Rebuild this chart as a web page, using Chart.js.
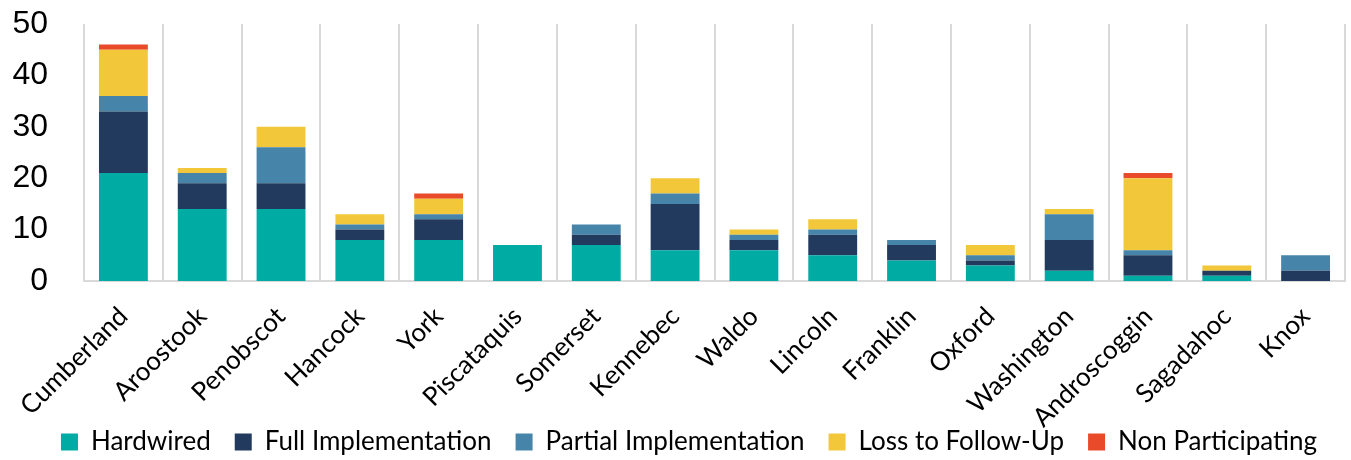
<!DOCTYPE html>
<html lang="en">
<head>
    <meta charset="UTF-8">
    <title>Maine Counties by Implementation Status</title>
    <style>
        body {
            margin: 0;
            background: #ffffff;
        }
        .chart-box {
            width: 1351px;
            height: 460px;
            position: relative;
        }
    </style>
    <script src="https://cdn.jsdelivr.net/npm/chart.js"></script>
</head>
<body>
    <div class="chart-box">
        <canvas id="countyChart"></canvas>
    </div>

    <script>
        // Counties (x axis)
        const counties = ['Cumberland', 'Aroostook', 'Penobscot', 'Hancock', 'York', 'Piscataquis',
            'Somerset', 'Kennebec', 'Waldo', 'Lincoln', 'Franklin', 'Oxford', 'Washington',
            'Androscoggin', 'Sagadahoc', 'Knox'];

        // Stacked series values
        const hardwired     = [21, 14, 14, 8, 8, 7, 7, 6, 6, 5, 4, 3, 2, 1, 1, 0];
        const fullImpl      = [12, 5, 5, 2, 4, 0, 2, 9, 2, 4, 3, 1, 6, 4, 1, 2];
        const partialImpl   = [3, 2, 7, 1, 1, 0, 2, 2, 1, 1, 1, 1, 5, 1, 0, 3];
        const lossFollowUp  = [9, 1, 4, 2, 3, 0, 0, 3, 1, 2, 0, 2, 1, 14, 1, 0];
        const nonParticip   = [1, 0, 0, 0, 1, 0, 0, 0, 0, 0, 0, 0, 0, 1, 0, 0];

        // Y axis
        const yTicks = [0, 10, 20, 30, 40, 50];

        const gridGrey = '#d9d9d9';
        const labelFont = 'Lato, "Open Sans", sans-serif';

        function series(label, data, color) {
            return {
                label: label,
                data: data,
                backgroundColor: color,
                borderWidth: 0,
                categoryPercentage: 1.0,
                barPercentage: 0.62
            };
        }

        // labels may run outside their own axis box (as in the original)
        function noLabelClip(scale) {
            scale._computeLabelArea = function () { return undefined; };
        }

        const ctx = document.getElementById('countyChart').getContext('2d');
        const chart = new Chart(ctx, {
            type: 'bar',
            data: {
                labels: counties,
                datasets: [
                    series('Hardwired', hardwired, '#00aba4'),
                    series('Full Implementation', fullImpl, '#213a5d'),
                    series('Partial Implementation', partialImpl, '#4684a9'),
                    series('Loss to Follow-Up', lossFollowUp, '#f2c83a'),
                    series('Non Participating', nonParticip, '#e94a2a')
                ]
            },
            options: {
                responsive: true,
                maintainAspectRatio: false,
                animation: false,
                layout: {
                    padding: { top: 24, right: 6, bottom: -5, left: 33 }
                },
                plugins: {
                    tooltip: { enabled: false },
                    legend: {
                        position: 'bottom',
                        labels: {
                            boxWidth: 17,
                            boxHeight: 17,
                            padding: 24,
                            color: '#000',
                            font: { family: labelFont, size: 26 }
                        }
                    }
                },
                scales: {
                    x: {
                        stacked: true,
                        grid: {
                            offset: true,
                            color: gridGrey,
                            lineWidth: 2,
                            drawTicks: false
                        },
                        border: { color: gridGrey, width: 2 },
                        ticks: {
                            color: '#000',
                            minRotation: 45,
                            maxRotation: 45,
                            autoSkip: false,
                            padding: 20,
                            font: { family: labelFont, size: 26 }
                        },
                        afterFit: function (scale) {
                            scale.height = 124;
                            noLabelClip(scale);
                        }
                    },
                    y: {
                        stacked: true,
                        min: 0,
                        max: 50,
                        grid: { display: false, drawTicks: false },
                        border: { display: false },
                        afterBuildTicks: function (scale) {
                            scale.ticks = yTicks.map(v => ({ value: v }));
                        },
                        ticks: {
                            color: '#000',
                            autoSkip: false,
                            padding: 36,
                            font: { family: '"Liberation Sans", Arial, sans-serif', size: 32 }
                        },
                        afterFit: function (scale) {
                            scale.width = 51;
                            // tick padding is horizontal only here
                            scale.paddingTop = 0;
                            scale.paddingBottom = 0;
                            noLabelClip(scale);
                        }
                    }
                }
            }
        });
    </script>
</body>
</html>
